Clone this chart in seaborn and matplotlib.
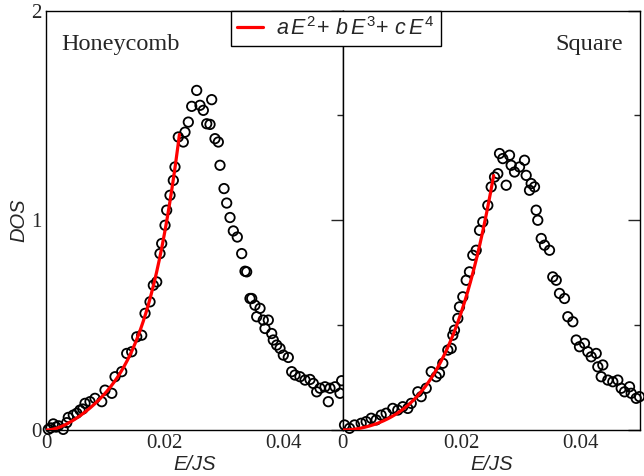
import numpy as np
import pandas as pd
import matplotlib
matplotlib.use("Agg")
import matplotlib.pyplot as plt
import seaborn as sns
from matplotlib.lines import Line2D

# Density of states of the two lattices (energy in units of JS)
honey_E = [0.00039, 0.0008, 0.00123, 0.0017, 0.0021, 0.0029, 0.0035, 0.00376, 0.0046,
           0.0052, 0.00573, 0.0062, 0.00658, 0.00742, 0.00826, 0.0094, 0.00995, 0.0111,
           0.01164, 0.01277, 0.01361, 0.01445, 0.0153, 0.01614, 0.0167, 0.01754, 0.0181,
           0.01867, 0.01922, 0.01951, 0.02007, 0.02035, 0.02091, 0.02147, 0.02175, 0.02231,
           0.02315, 0.02344, 0.0240, 0.02457, 0.02541, 0.02597, 0.02653, 0.02794, 0.0271,
           0.02766, 0.0285, 0.02906, 0.02934, 0.03002, 0.03047, 0.03103, 0.03159, 0.03226,
           0.0330, 0.03356, 0.03384, 0.0344, 0.03469, 0.03524, 0.03609, 0.03553, 0.03664,
           0.03749, 0.03693, 0.03806, 0.03833, 0.0389, 0.03946, 0.04002, 0.04086, 0.04143,
           0.04199, 0.04283, 0.04368, 0.04452, 0.04508, 0.04565, 0.04621, 0.04705, 0.04761,
           0.04789, 0.04874, 0.04958, 0.04986]
honey_dos = [0.003, 0.010, 0.029, 0.014, 0.020, 0.003, 0.035, 0.060, 0.071,
             0.080, 0.095, 0.100, 0.127, 0.135, 0.151, 0.135, 0.190, 0.175,
             0.254, 0.278, 0.365, 0.373, 0.444, 0.452, 0.556, 0.611, 0.690,
             0.706, 0.841, 0.889, 0.976, 1.048, 1.119, 1.190, 1.254, 1.397,
             1.373, 1.420, 1.468, 1.543, 1.619, 1.548, 1.524, 1.575, 1.460,
             1.457, 1.389, 1.373, 1.262, 1.151, 1.082, 1.013, 0.949, 0.920,
             0.841, 0.757, 0.754, 0.627, 0.627, 0.595, 0.580, 0.540, 0.524,
             0.524, 0.484, 0.460, 0.429, 0.405, 0.389, 0.357, 0.346, 0.278,
             0.262, 0.254, 0.238, 0.241, 0.222, 0.182, 0.199, 0.206, 0.135,
             0.199, 0.206, 0.175, 0.235]

square_E = [0.00034, 0.00118, 0.00202, 0.00314, 0.00398, 0.00482, 0.00566, 0.0065, 0.00734,
            0.00845, 0.00929, 0.01013, 0.01097, 0.01155, 0.01266, 0.01323, 0.01407, 0.01491,
            0.01575, 0.0163, 0.01686, 0.0177, 0.01827, 0.01854, 0.01882, 0.01938, 0.01966,
            0.02022, 0.02079, 0.02134, 0.0219, 0.02247, 0.02303, 0.02358, 0.02442, 0.02499,
            0.02555, 0.0261, 0.02751, 0.02639, 0.02694, 0.02807, 0.02835, 0.02891, 0.02975,
            0.03059, 0.03087, 0.03171, 0.03143, 0.03227, 0.03255, 0.03282, 0.0334, 0.03395,
            0.03479, 0.03534, 0.03592, 0.03647, 0.03731, 0.03787, 0.03871, 0.03928, 0.03983,
            0.04067, 0.04123, 0.0418, 0.04264, 0.04291, 0.04375, 0.04348, 0.04459, 0.04543,
            0.04627, 0.04684, 0.0474, 0.04824, 0.04852, 0.04936, 0.04992]
square_dos = [0.024, 0.008, 0.024, 0.032, 0.040, 0.056, 0.048, 0.071, 0.080,
              0.103, 0.095, 0.111, 0.103, 0.127, 0.182, 0.159, 0.199, 0.278,
              0.254, 0.270, 0.318, 0.381, 0.389, 0.452, 0.476, 0.532, 0.587,
              0.635, 0.714, 0.754, 0.833, 0.857, 0.952, 0.992, 1.071, 1.159,
              1.206, 1.222, 1.167, 1.318, 1.294, 1.310, 1.262, 1.230, 1.254,
              1.286, 1.214, 1.175, 1.143, 1.159, 1.048, 1.000, 0.913, 0.881,
              0.857, 0.730, 0.714, 0.651, 0.627, 0.540, 0.516, 0.429, 0.397,
              0.413, 0.373, 0.349, 0.365, 0.301, 0.310, 0.254, 0.238, 0.230,
              0.238, 0.199, 0.182, 0.206, 0.175, 0.151, 0.159]

# Low-energy fit DOS = a E^2 + b E^3 + c E^4: coefficients [a, b, c] and window end
honey_fit_coef = [3000.0, -2.155e5, 9.15e6]
square_fit_coef = [1032.6, -3.449e4, 2.672e6]
honey_fit_end = 0.0225
square_fit_end = 0.0254

panel_names = ["Honeycomb", "Square"]
xtick_major = [0.0, 0.02, 0.04]
xtick_labels = ["0", "0.02", "0.04"]
xtick_minor = [0.01, 0.03]
ytick_major = [0, 1, 2]
ytick_labels = ["0", "1", "2"]
ytick_minor = [0.5, 1.5]

sns.set_style("white")
plt.rcParams.update({
    "font.family": ["Liberation Serif", "DejaVu Serif"],
    "mathtext.fontset": "custom",
    "mathtext.rm": "Liberation Sans",
    "mathtext.it": "Liberation Sans:italic",
    "axes.edgecolor": "black",
    "axes.linewidth": 1.0,
})

data = {
    "Honeycomb": pd.DataFrame({"E": honey_E, "DOS": honey_dos}),
    "Square": pd.DataFrame({"E": square_E, "DOS": square_dos}),
}
fits = {
    "Honeycomb": (honey_fit_coef, honey_fit_end),
    "Square": (square_fit_coef, square_fit_end),
}

fig = plt.figure(figsize=(6.44, 4.76), dpi=100)
ax_h = fig.add_axes([46 / 644, 1 - 430 / 476, 296.5 / 644, 419.5 / 476])
ax_s = fig.add_axes([342.5 / 644, 1 - 430 / 476, 297.5 / 644, 419.5 / 476])
axes = {"Honeycomb": ax_h, "Square": ax_s}

label_font = dict(family="Liberation Sans", style="italic", size=14.5)

for name in panel_names:
    ax = axes[name]
    df = data[name]
    sns.scatterplot(data=df, x="E", y="DOS", ax=ax, marker="o", s=46,
                    facecolor="none", edgecolor="black", linewidth=1.3,
                    clip_on=False, zorder=3)

    (a, b, c), e_end = fits[name]
    grid = np.linspace(0, e_end, 200)
    curve = a * grid ** 2 + b * grid ** 3 + c * grid ** 4
    sns.lineplot(x=grid, y=curve, ax=ax, color="red", linewidth=2.3, zorder=4)

    ax.set_xlim(0, 0.05)
    ax.set_ylim(0, 2)
    ax.set_xticks(xtick_major)
    ax.set_xticklabels(xtick_labels)
    ax.set_xticks(xtick_minor, minor=True)
    ax.set_yticks(ytick_major)
    ax.set_yticks(ytick_minor, minor=True)
    ax.tick_params(which="both", direction="in", top=False, right=True,
                   width=1.0, labelsize=15, pad=3)
    ax.tick_params(which="major", length=8.5)
    ax.tick_params(which="minor", length=4.5)
    for sp in ax.spines.values():
        sp.set_visible(True)
        sp.set_color("black")
    ax.set_xlabel("E/JS", fontdict=label_font, labelpad=1)
    ax.set_ylabel("")

ax_h.set_yticklabels(ytick_labels)
ax_s.set_yticklabels([])
ax_h.set_ylabel("DOS", fontdict=label_font, labelpad=2)

ax_h.text(0.05, 0.905, "Honeycomb", transform=ax_h.transAxes, fontsize=17.5,
          family="Liberation Serif", va="baseline", ha="left")
ax_s.text(0.943, 0.905, "Square", transform=ax_s.transAxes, fontsize=17.5,
          family="Liberation Serif", va="baseline", ha="right")

handle = Line2D([], [], color="red", linewidth=2.3)
fig.legend([handle], [r"$a\,E^{2}\!+\,b\,E^{3}\!+\,c\,E^{4}$"],
           loc="upper left", bbox_to_anchor=(231 / 644, 1 - 10.5 / 476),
           borderaxespad=0, fontsize=15.5, frameon=True, fancybox=False,
           edgecolor="black", framealpha=1, handlelength=1.2,
           handletextpad=0.6, borderpad=0.3)
fig.legends[0].get_frame().set_linewidth(1.0)

fig.savefig("out.png", dpi=100)
